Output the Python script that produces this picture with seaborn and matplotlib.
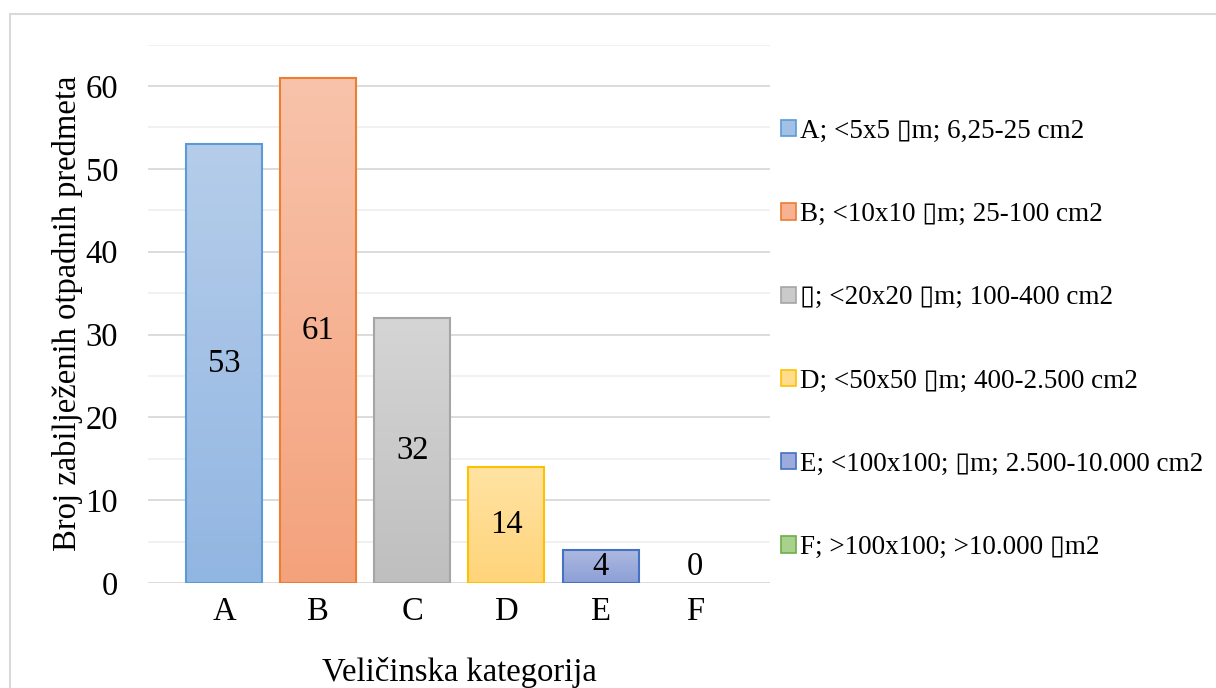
import numpy as np
import pandas as pd
import matplotlib
matplotlib.use("Agg")
import matplotlib.pyplot as plt
import seaborn as sns
from matplotlib.patches import Patch, Rectangle
from matplotlib.colors import to_rgb

categories = ["A", "B", "C", "D", "E", "F"]
values = [53, 61, 32, 14, 4, 0]
legend_labels = [
    "A; <5x5 \u25afm; 6,25-25 cm2",
    "B; <10x10 \u25afm; 25-100 cm2",
    "\u25af; <20x20 \u25afm; 100-400 cm2",
    "D; <50x50 \u25afm; 400-2.500 cm2",
    "E; <100x100; \u25afm; 2.500-10.000 cm2",
    "F; >100x100; >10.000 \u25afm2",
]
edge_colors = ["#5b9bd5", "#ed7d31", "#a5a5a5", "#ffc000", "#4472c4", "#70ad47"]
top_colors = ["#b5cdea", "#f8c3ab", "#d5d5d5", "#ffe3a3", "#adb9e0", "#b9dba3"]
bottom_colors = ["#92b6e2", "#f4a27c", "#bfbfbf", "#ffd47a", "#8c9fd7", "#99c97c"]
legend_fill = ["#a3c1e6", "#f6b293", "#cacaca", "#ffdc8e", "#9cabdb", "#a9d18e"]
y_ticks = [0, 10, 20, 30, 40, 50, 60]
y_label = "Broj zabilježenih otpadnih predmeta"
x_label = "Veličinska kategorija"

sns.set_theme(style="white")
plt.rcParams["font.family"] = ["Liberation Serif", "DejaVu Sans"]
plt.rcParams["text.color"] = "black"
plt.rcParams["axes.labelcolor"] = "black"
plt.rcParams["xtick.color"] = "black"
plt.rcParams["ytick.color"] = "black"

FS = 23.5

fig = plt.figure(figsize=(12.16, 6.88), dpi=100)
fig.patches.append(Rectangle((10 / 1216, -0.05), 1.2, 1 - 14 / 688 + 0.05,
                             transform=fig.transFigure, fill=False,
                             edgecolor="#d9d9d9", linewidth=1.5))
ax = fig.add_axes([148 / 1216, 1 - 583 / 688, (770 - 148) / 1216, (583 - 44.6) / 688])

df = pd.DataFrame({"cat": categories, "val": values})
sns.barplot(data=df, x="cat", y="val", hue="cat", palette=edge_colors,
            legend=False, width=0.807, ax=ax, saturation=1)

for i, bar in enumerate(ax.patches):
    bar.set_facecolor("none")
    bar.set_edgecolor(edge_colors[i])
    bar.set_linewidth(1.5)
    bar.set_zorder(3)
    x0, w, h = bar.get_x(), bar.get_width(), bar.get_height()
    if h > 0:
        t = np.array(to_rgb(top_colors[i]))
        b = np.array(to_rgb(bottom_colors[i]))
        grad = np.linspace(0, 1, 64)[:, None, None] * (b - t) + t
        im = ax.imshow(grad, extent=[x0, x0 + w, 0, h], origin="upper",
                       aspect="auto", zorder=2, interpolation="bilinear")
        im.set_clip_path(bar)
    else:
        bar.set_linewidth(0)

for i, v in enumerate(values):
    ypos = v / 2 if v > 0 else 2
    ax.text(i, ypos, str(v), ha="center", va="center", fontsize=FS, zorder=4)

ax.set_xlim(-0.807, 5.8)
ax.set_ylim(0, 65)
ax.set_yticks(y_ticks)
ax.set_yticks(np.arange(5, 66, 10), minor=True)
ax.grid(axis="y", which="major", color="#d9d9d9", linewidth=1.3)
ax.grid(axis="y", which="minor", color="#f0f0f0", linewidth=1.3)
ax.grid(axis="x", visible=False)
ax.set_axisbelow(True)
for s in ax.spines.values():
    s.set_visible(False)
ax.tick_params(axis="y", which="both", length=0, labelsize=FS, pad=21.6)
ax.tick_params(axis="x", length=0, labelsize=FS, pad=10)
ax.set_xlabel(x_label, fontsize=FS, labelpad=21)
ax.set_ylabel(y_label, fontsize=FS, labelpad=1.5)

handles = [Patch(facecolor=legend_fill[i], edgecolor=edge_colors[i], linewidth=1.2)
           for i in range(len(categories))]
fig.legend(handles, legend_labels, loc="upper left",
           bbox_to_anchor=(770 / 1216, 1 - 108 / 688), frameon=False,
           fontsize=19.5, handlelength=0.55, handleheight=0.55, handletextpad=0.15,
           labelspacing=2.15, borderaxespad=0)

fig.savefig("out.png", dpi=100)
